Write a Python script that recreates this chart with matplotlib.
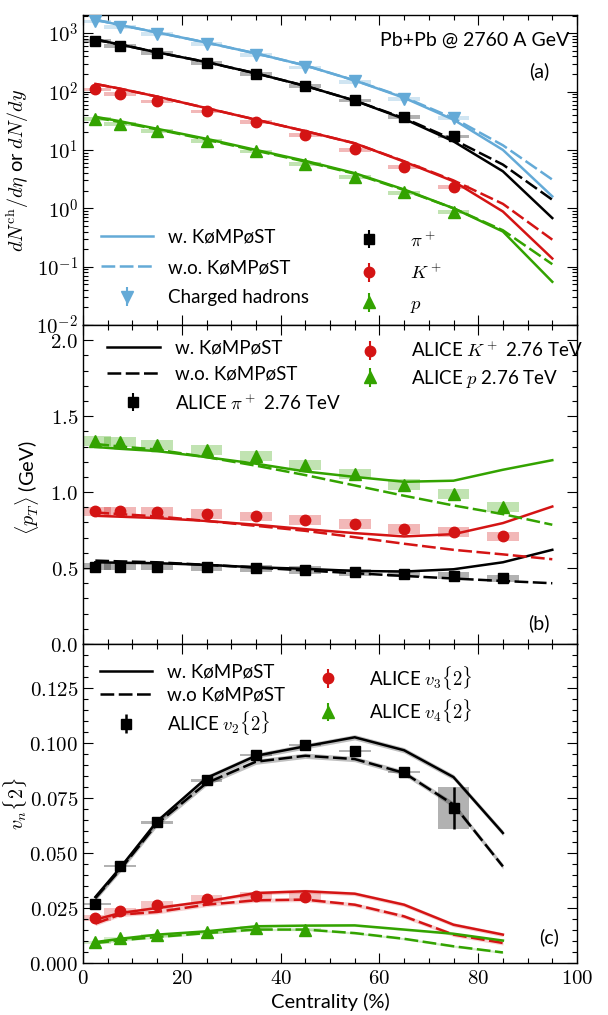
import numpy as np
import matplotlib
matplotlib.use("Agg")
import matplotlib.pyplot as plt
from matplotlib.legend import Legend
from matplotlib.ticker import MultipleLocator, FuncFormatter, LogLocator, NullFormatter

plt.rcParams['font.family'] = ['Lato', 'DejaVu Sans']
plt.rcParams['mathtext.fontset'] = 'cm'
plt.rcParams['font.size'] = 13

# colours
c_blue = "#64aad7"
c_red = "#d41414"
c_green = "#33a300"
c_black = "k"

# centrality bins
cent_data = [2.5, 7.5, 15, 25, 35, 45, 55, 65, 75]
cent_data10 = [2.5, 7.5, 15, 25, 35, 45, 55, 65, 75, 85]
cent_model = [2.5, 7.5, 15, 25, 35, 45, 55, 65, 75, 85, 95]
cent_vn = [2.5, 7.5, 15, 25, 35, 45, 55, 65, 75, 85]
cent_v34 = [2.5, 7.5, 15, 25, 35, 45]

# (a) multiplicity data
dn_ch = [1601, 1294, 966, 649, 426, 261, 149, 76, 35]
dn_pi = [733, 606, 455, 307, 201, 124, 71, 37, 17.1]
dn_k = [109, 91, 68, 46, 30, 18.3, 10.2, 5.1, 2.3]
dn_p = [34, 28, 21, 14.2, 9.5, 5.8, 3.5, 1.87, 0.88]

# (a) model
ch_w = [1700, 1380, 1030, 690, 450, 280, 155, 78, 33, 10, 1.6]
ch_wo = [1700, 1380, 1030, 690, 450, 280, 155, 80, 35, 12, 3.1]
pi_w = [780, 640, 470, 320, 205, 125, 70, 34, 14, 4.3, 0.68]
pi_wo = [780, 640, 470, 320, 205, 125, 70, 35, 15, 5.6, 1.4]
k_w = [135, 112, 82, 52, 33, 21, 13, 6.3, 2.9, 0.88, 0.138]
k_wo = [135, 112, 82, 52, 33, 21, 13, 6.4, 3.0, 1.19, 0.29]
p_w = [37, 31, 23, 15.5, 10, 6.5, 4.0, 2.1, 1.0, 0.40, 0.055]
p_wo = [36, 30, 22.5, 15, 9.7, 6.3, 3.9, 2.05, 1.0, 0.42, 0.11]

# (b) mean pT data
mpt_pi = [0.51, 0.51, 0.51, 0.505, 0.499, 0.488, 0.473, 0.462, 0.45, 0.433]
mpt_k = [0.873, 0.873, 0.868, 0.857, 0.84, 0.818, 0.79, 0.758, 0.736, 0.708]
mpt_p = [1.334, 1.327, 1.31, 1.28, 1.24, 1.18, 1.12, 1.05, 0.99, 0.90]

# (b) model
mpt_pi_w = [0.538, 0.535, 0.532, 0.521, 0.505, 0.495, 0.481, 0.477, 0.492, 0.538, 0.62]
mpt_pi_wo = [0.549, 0.544, 0.538, 0.521, 0.503, 0.484, 0.466, 0.448, 0.431, 0.415, 0.40]
mpt_k_w = [0.844, 0.838, 0.829, 0.81, 0.785, 0.756, 0.73, 0.708, 0.723, 0.796, 0.905]
mpt_k_wo = [0.866, 0.855, 0.84, 0.81, 0.778, 0.745, 0.703, 0.66, 0.62, 0.59, 0.558]
mpt_p_w = [1.297, 1.285, 1.27, 1.23, 1.187, 1.136, 1.10, 1.068, 1.075, 1.147, 1.21]
mpt_p_wo = [1.317, 1.30, 1.28, 1.23, 1.174, 1.112, 1.044, 0.976, 0.912, 0.855, 0.785]

# (c) vn data
v2_data = [0.027, 0.0442, 0.0639, 0.083, 0.0947, 0.099, 0.0962, 0.087, 0.0705]
v2_err = [0.0005, 0.0005, 0.0005, 0.0005, 0.0005, 0.0005, 0.0005, 0.0005, 0.0095]
v2_sys = [0.0005, 0.0005, 0.0005, 0.0005, 0.0005, 0.0005, 0.0005, 0.0005, 0.0095]
v3_data = [0.0205, 0.0235, 0.0262, 0.0291, 0.0303, 0.030]
v3_sys = [0.0015, 0.0015, 0.0018, 0.0018, 0.0018, 0.0018]
v4_data = [0.0094, 0.0112, 0.0126, 0.0139, 0.0159, 0.0152]
v4_sys = [0.0008, 0.0008, 0.0008, 0.0008, 0.0008, 0.0008]

# (c) model
v2_w = [0.030, 0.0432, 0.0644, 0.0841, 0.0942, 0.0985, 0.1026, 0.0967, 0.0845, 0.0591]
v2_wo = [0.0295, 0.0424, 0.0633, 0.0818, 0.0915, 0.0942, 0.0927, 0.0864, 0.072, 0.0439]
v3_w = [0.0197, 0.0227, 0.025, 0.028, 0.0318, 0.0326, 0.0315, 0.0265, 0.0174, 0.0129]
v3_wo = [0.0179, 0.022, 0.0232, 0.0265, 0.0285, 0.0288, 0.0265, 0.0212, 0.0129, 0.0091]
v4_w = [0.0095, 0.011, 0.0129, 0.0144, 0.0167, 0.017, 0.0171, 0.0152, 0.0133, 0.0102]
v4_wo = [0.0091, 0.0103, 0.0118, 0.0136, 0.0152, 0.0152, 0.0136, 0.011, 0.0076, 0.0048]

box_w = 6.4
dash = (0, (5.5, 1.8))
leg_fs = 13.5


def style_axis(ax):
    ax.tick_params(which='both', direction='in', top=True, right=True, width=0.8)
    ax.tick_params(which='major', length=7)
    ax.tick_params(which='minor', length=3.5)
    ax.xaxis.set_major_locator(MultipleLocator(20))
    ax.xaxis.set_minor_locator(MultipleLocator(5))
    ax.set_xlim(0, 100)
    for s in ax.spines.values():
        s.set_linewidth(1.0)


def boxes(ax, x, lo, hi, color, alpha=0.3):
    lo = np.asarray(lo, float)
    hi = np.asarray(hi, float)
    ax.bar(x, hi - lo, bottom=lo, width=box_w, color=color, alpha=alpha,
           linewidth=0, zorder=1)


def add_legend(ax, handles, labels, x, y, spacing):
    leg = Legend(ax, handles, labels, loc='upper left', bbox_to_anchor=(x, y),
                 frameon=False, fontsize=leg_fs, handlelength=2.8,
                 handletextpad=0.8, labelspacing=spacing, borderpad=0,
                 borderaxespad=0)
    ax.add_artist(leg)


fig = plt.figure(figsize=(6.08, 10.15), dpi=100)
L, W = 83 / 608, 494 / 608
ax1 = fig.add_axes([L, 1 - 325 / 1015, W, 310 / 1015])
ax2 = fig.add_axes([L, 1 - 644 / 1015, W, 319 / 1015])
ax3 = fig.add_axes([L, 1 - 963 / 1015, W, 319 / 1015])

# ---------------- (a)
ax = ax1
ax.set_yscale('log')
for y, c in [(dn_ch, c_blue), (dn_pi, c_black), (dn_k, c_red), (dn_p, c_green)]:
    y = np.asarray(y)
    boxes(ax, cent_data, y * 0.92, y * 1.07, c, alpha=0.3)

for w, wo, c in [(ch_w, ch_wo, c_blue), (pi_w, pi_wo, c_black), (k_w, k_wo, c_red), (p_w, p_wo, c_green)]:
    ax.plot(cent_model, w, color=c, lw=1.8, zorder=3)
    ax.plot(cent_model, wo, color=c, lw=1.8, ls=dash, zorder=3)

h_ch = ax.errorbar(cent_data, dn_ch, yerr=np.asarray(dn_ch) * 0.01, fmt='v', color=c_blue, ms=8, elinewidth=1.5, zorder=4)
h_pi = ax.errorbar(cent_data, dn_pi, yerr=np.asarray(dn_pi) * 0.01, fmt='s', color=c_black, ms=7.5, elinewidth=1.5, zorder=4)
h_k = ax.errorbar(cent_data, dn_k, yerr=np.asarray(dn_k) * 0.01, fmt='o', color=c_red, ms=7.5, elinewidth=1.5, zorder=4)
h_p = ax.errorbar(cent_data, dn_p, yerr=np.asarray(dn_p) * 0.01, fmt='^', color=c_green, ms=8, elinewidth=1.5, zorder=4)
l_w, = ax.plot([], [], color=c_blue, lw=1.8)
l_wo, = ax.plot([], [], color=c_blue, lw=1.8, ls=dash)

style_axis(ax)
ax.set_ylim(1e-2, 2050)
ax.yaxis.set_major_locator(LogLocator(base=10, numticks=10))
ax.yaxis.set_minor_locator(LogLocator(base=10, subs=np.arange(2, 10), numticks=20))
ax.yaxis.set_major_formatter(FuncFormatter(lambda v, p: r"$10^{%d}$" % int(round(np.log10(v)))))
ax.yaxis.set_minor_formatter(NullFormatter())
ax.tick_params(axis='y', labelsize=15)
ax.set_xticklabels([])
ax.set_ylabel(r"$dN^{\rm ch}/d\eta$ or $dN/dy$", fontsize=14.5)
ax.yaxis.set_label_coords(-0.105, 0.5)
ax.text(0.985, 0.918, "Pb+Pb @ 2760 A GeV", transform=ax.transAxes, ha='right', va='center', fontsize=14)
ax.text(0.923, 0.82, "(a)", transform=ax.transAxes, ha='center', va='center', fontsize=14)
add_legend(ax, [l_w, l_wo, h_ch], ["w. KøMPøST", "w.o. KøMPøST", "Charged hadrons"], 0.036, 0.31, 0.7)
add_legend(ax, [h_pi, h_k, h_p], [r"$\pi^+$", r"$K^+$", r"$p$"], 0.526, 0.31, 0.7)

# ---------------- (b)
ax = ax2
for y, c, s in [(mpt_pi, c_black, 0.024), (mpt_k, c_red, 0.032), (mpt_p, c_green, 0.033)]:
    y = np.asarray(y)
    boxes(ax, cent_data10, y - s, y + s, c, alpha=0.3)
for w, wo, c in [(mpt_pi_w, mpt_pi_wo, c_black), (mpt_k_w, mpt_k_wo, c_red), (mpt_p_w, mpt_p_wo, c_green)]:
    ax.plot(cent_model, w, color=c, lw=1.8, zorder=3)
    ax.plot(cent_model, wo, color=c, lw=1.8, ls=dash, zorder=3)
h_pi2 = ax.errorbar(cent_data10, mpt_pi, yerr=0.004, fmt='s', color=c_black, ms=7.5, elinewidth=1.5, zorder=4)
h_k2 = ax.errorbar(cent_data10, mpt_k, yerr=0.004, fmt='o', color=c_red, ms=7.5, elinewidth=1.5, zorder=4)
h_p2 = ax.errorbar(cent_data10, mpt_p, yerr=0.004, fmt='^', color=c_green, ms=8, elinewidth=1.5, zorder=4)
k_w2, = ax.plot([], [], color=c_black, lw=1.8)
k_wo2, = ax.plot([], [], color=c_black, lw=1.8, ls=dash)

style_axis(ax)
ax.set_ylim(0, 2.1)
ax.yaxis.set_major_locator(MultipleLocator(0.5))
ax.yaxis.set_minor_locator(MultipleLocator(0.1))
ax.yaxis.set_major_formatter(FuncFormatter(lambda v, p: r"$%.1f$" % v))
ax.tick_params(axis='y', labelsize=15)
ax.set_xticklabels([])
ax.set_ylabel(r"$\langle p_T\rangle$ (GeV)", fontsize=14.5)
ax.yaxis.set_label_coords(-0.085, 0.49)
ax.text(0.923, 0.066, "(b)", transform=ax.transAxes, ha='center', va='center', fontsize=14)
add_legend(ax, [k_w2, k_wo2, h_pi2], ["w. KøMPøST", "w.o. KøMPøST", r"ALICE $\pi^+$ 2.76 TeV"], 0.049, 0.953, 0.48)
add_legend(ax, [h_k2, h_p2], [r"ALICE $K^+$ 2.76 TeV", r"ALICE $p$ 2.76 TeV"], 0.528, 0.953, 0.4)

# ---------------- (c)
ax = ax3
v2_d = np.asarray(v2_data)
v2_s = np.asarray(v2_sys)
boxes(ax, cent_data, v2_d - v2_s, v2_d + v2_s, c_black, alpha=0.3)
v3_d = np.asarray(v3_data)
boxes(ax, cent_v34, v3_d - np.asarray(v3_sys), v3_d + np.asarray(v3_sys), c_red, alpha=0.25)
v4_d = np.asarray(v4_data)
boxes(ax, cent_v34, v4_d - np.asarray(v4_sys), v4_d + np.asarray(v4_sys), c_green, alpha=0.2)

for w, wo, c, band, a in [(v2_w, v2_wo, c_black, 0.0012, 0.25), (v3_w, v3_wo, c_red, 0.0009, 0.2),
                          (v4_w, v4_wo, c_green, 0.0005, 0.2)]:
    for yy, ls in [(w, '-'), (wo, dash)]:
        yy = np.asarray(yy)
        ax.fill_between(cent_vn, yy - band, yy + band, color=c, alpha=a, lw=0, zorder=2)
        ax.plot(cent_vn, yy, color=c, lw=1.8, ls=ls, zorder=3)

h_v2 = ax.errorbar(cent_data, v2_data, yerr=v2_err, fmt='s', color=c_black, ms=7.5, elinewidth=1.8, zorder=4)
h_v3 = ax.errorbar(cent_v34, v3_data, yerr=0.0004, fmt='o', color=c_red, ms=7.5, elinewidth=1.5, zorder=4)
h_v4 = ax.errorbar(cent_v34, v4_data, yerr=0.0004, fmt='^', color=c_green, ms=8, elinewidth=1.5, zorder=4)
k_w3, = ax.plot([], [], color=c_black, lw=1.8)
k_wo3, = ax.plot([], [], color=c_black, lw=1.8, ls=dash)

style_axis(ax)
ax.set_ylim(0, 0.145)
ax.yaxis.set_major_locator(MultipleLocator(0.025))
ax.yaxis.set_minor_locator(MultipleLocator(0.005))
ax.yaxis.set_major_formatter(FuncFormatter(lambda v, p: r"$%.3f$" % v))
ax.xaxis.set_major_formatter(FuncFormatter(lambda v, p: r"$%d$" % v))
ax.tick_params(axis='both', labelsize=15)
ax.set_ylabel(r"$v_n\{2\}$", fontsize=14.5)
ax.yaxis.set_label_coords(-0.11, 0.5)
ax.set_xlabel("Centrality (%)", fontsize=14.5)
ax.text(0.943, 0.08, "(c)", transform=ax.transAxes, ha='center', va='center', fontsize=14)
add_legend(ax, [k_w3, k_wo3, h_v2], ["w. KøMPøST", "w.o KøMPøST", r"ALICE $v_2\{2\}$"], 0.034, 0.938, 0.3)
add_legend(ax, [h_v3, h_v4], [r"ALICE $v_3\{2\}$", r"ALICE $v_4\{2\}$"], 0.443, 0.938, 0.3)

fig.savefig("out.png", dpi=100)
